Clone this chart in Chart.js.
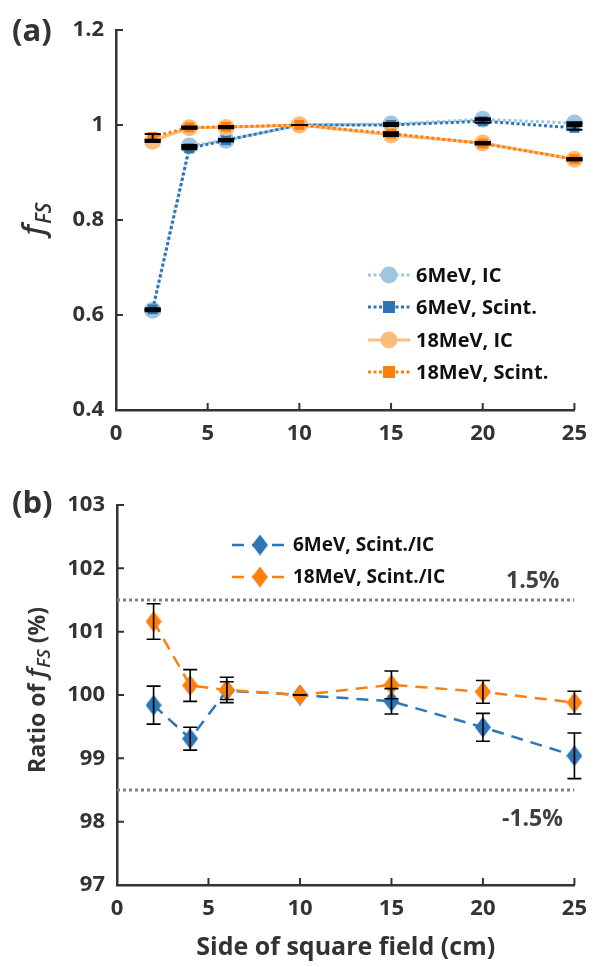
<!DOCTYPE html>
<html><head><meta charset="utf-8">
<script src="https://cdn.jsdelivr.net/npm/chart.js@4/dist/chart.umd.min.js"></script>
<style>
html,body{margin:0;padding:0;background:#fff;}
#wrap{position:relative;width:598px;height:967px;overflow:hidden;}
#c1{position:absolute;left:0;top:0;}
#c2{position:absolute;left:0;top:470px;}
</style></head><body>
<div id="wrap">
<canvas id="c1" width="598" height="470"></canvas>
<canvas id="c2" width="598" height="497"></canvas>
</div>
<script>
// ---------- data ----------
const fieldSizes = [2, 4, 6, 10, 15, 20, 25];

// panel (a): f_FS
const ic6MeV     = [0.610, 0.956, 0.968, 1.000, 1.002, 1.012, 1.004];
const scint6MeV  = [0.612, 0.951, 0.968, 1.000, 1.000, 1.008, 0.994];
const ic18MeV    = [0.966, 0.994, 0.995, 1.000, 0.979, 0.962, 0.928];
const scint18MeV = [0.975, 0.995, 0.996, 1.000, 0.982, 0.961, 0.928];
const ic6Err     = [0.002, 0.002, 0.002, 0.000, 0.002, 0.002, 0.002];
const scint6Err  = [0.002, 0.002, 0.002, 0.000, 0.002, 0.003, 0.004];
const ic18Err    = [0.002, 0.002, 0.002, 0.000, 0.002, 0.002, 0.002];
const scint18Err = [0.006, 0.002, 0.002, 0.000, 0.003, 0.002, 0.002];

// panel (b): ratio Scint./IC (%)
const ratio6MeV     = [99.84, 99.31, 100.07, 100.00, 99.90, 99.49, 99.04];
const ratio6Err     = [0.30, 0.18, 0.14, 0.00, 0.20, 0.22, 0.36];
const ratio18MeV    = [101.16, 100.15, 100.08, 100.00, 100.16, 100.05, 99.88];
const ratio18Err    = [0.28, 0.25, 0.20, 0.00, 0.22, 0.18, 0.18];
const limitUpper = 101.5;
const limitLower = 98.5;
const limitXRange = [0, 25];

const ticksA = [0.4, 0.6, 0.8, 1.0, 1.2];
const ticksB = [97, 98, 99, 100, 101, 102, 103];
const ticksX = [0, 5, 10, 15, 20, 25];

// ---------- styles ----------
const BLUE = '#2e75b6', LBLUE = '#9fc6e0', ORANGE = '#ff7f0e', LORANGE = '#fdbd7a';
const AXIS = '#333333';
const FONT = '"Open Sans", Lato, sans-serif';

function pts(ys){ return fieldSizes.map((x,i)=>({x:x, y:ys[i]})); }

function diamond(color){
  const c = document.createElement('canvas');
  c.width = 16; c.height = 21;
  const g = c.getContext('2d');
  g.fillStyle = color;
  g.beginPath(); g.moveTo(8,0); g.lineTo(16,10.5); g.lineTo(8,21); g.lineTo(0,10.5); g.closePath(); g.fill();
  return c;
}
const diaBlue = diamond(BLUE), diaOrange = diamond(ORANGE);

const errorBars = {
  id: 'errorBars',
  afterDatasetsDraw(chart, args, opts) {
    const ctx = chart.ctx, ys = chart.scales.y;
    ctx.save();
    ctx.strokeStyle = '#000';
    ctx.lineWidth = opts.lw;
    chart.data.datasets.forEach((ds, di) => {
      if (!ds.errors) return;
      const meta = chart.getDatasetMeta(di);
      meta.data.forEach((p, i) => {
        const e = ds.errors[i];
        const v = ds.data[i].y;
        const yt = ys.getPixelForValue(v + e), yb = ys.getPixelForValue(v - e);
        const hw = opts.cap;
        ctx.beginPath();
        if (e > 0) { ctx.moveTo(p.x, yt); ctx.lineTo(p.x, yb); }
        ctx.moveTo(p.x - hw, yt); ctx.lineTo(p.x + hw, yt);
        ctx.moveTo(p.x - hw, yb); ctx.lineTo(p.x + hw, yb);
        ctx.stroke();
      });
    });
    ctx.restore();
  }
};

const innerTicks = {
  id: 'innerTicks',
  afterDraw(chart) {
    const ctx = chart.ctx, xs = chart.scales.x, ys = chart.scales.y, a = chart.chartArea;
    ctx.save();
    ctx.strokeStyle = AXIS; ctx.lineWidth = 2;
    ctx.beginPath();
    xs.ticks.forEach(t => { const px = xs.getPixelForValue(t.value); ctx.moveTo(px, a.bottom); ctx.lineTo(px, a.bottom - 7); });
    ys.ticks.forEach(t => { const py = ys.getPixelForValue(t.value); ctx.moveTo(a.left, py); ctx.lineTo(a.left + 7, py); });
    ctx.stroke();
    ctx.restore();
  }
};

function drawRotatedTitle(ctx, cx, cy, parts) {
  ctx.save();
  ctx.translate(cx, cy);
  ctx.rotate(-Math.PI / 2);
  ctx.fillStyle = AXIS;
  ctx.textBaseline = 'alphabetic';
  ctx.textAlign = 'left';
  let total = 0;
  parts.forEach(p => { ctx.font = p.font; p.w = ctx.measureText(p.t).width; total += p.w + (p.gap||0); });
  let x = -total / 2;
  parts.forEach(p => { ctx.font = p.font; ctx.fillText(p.t, x, p.dy || 0); x += p.w + (p.gap||0); });
  ctx.restore();
}

function drawLegendLine(ctx, x0, x1, y, color, dash, lw) {
  ctx.save();
  ctx.strokeStyle = color; ctx.lineWidth = lw; ctx.setLineDash(dash);
  ctx.beginPath(); ctx.moveTo(x0, y); ctx.lineTo(x1, y); ctx.stroke();
  ctx.restore();
}

// ---------- chart (a) ----------
const decorA = {
  id: 'decorA',
  afterDraw(chart) {
    const ctx = chart.ctx;
    ctx.save();
    ctx.fillStyle = AXIS;
    ctx.font = 'bold 31px ' + FONT;
    ctx.textBaseline = 'alphabetic';
    ctx.fillText('(a)', 12, 41);
    ctx.restore();
    drawRotatedTitle(ctx, 44, 219, [
      {t:'f', font:'italic 600 30px ' + FONT, gap:1},
      {t:'FS', font:'italic 600 21px ' + FONT, dy:7}
    ]);
    // legend
    const items = [
      {label:'6MeV, IC', color:LBLUE, dash:[3,2.5], m:'circle'},
      {label:'6MeV, Scint.', color:BLUE, dash:[3,2.5], m:'square'},
      {label:'18MeV, IC', color:LORANGE, dash:[], m:'circle'},
      {label:'18MeV, Scint.', color:ORANGE, dash:[3,2.5], m:'square'}
    ];
    const rows = [275, 307, 340, 372];
    items.forEach((it, i) => {
      const y = rows[i];
      drawLegendLine(ctx, 368, 410, y, it.color, it.dash, 3);
      ctx.save();
      ctx.fillStyle = it.color;
      if (it.m === 'circle') { ctx.beginPath(); ctx.arc(389, y, 8.5, 0, Math.PI*2); ctx.fill(); }
      else { ctx.fillRect(383, y - 6, 12, 12); }
      ctx.fillStyle = '#111';
      ctx.font = 'bold 20px ' + FONT;
      ctx.textBaseline = 'middle';
      ctx.fillText(it.label, 416, y + 1);
      ctx.restore();
    });
  }
};

new Chart(document.getElementById('c1'), {
  type: 'line',
  data: {
    datasets: [
      {label:'6MeV, IC', data:pts(ic6MeV), errors:ic6Err, borderColor:LBLUE, backgroundColor:LBLUE,
       borderDash:[3,2.5], borderWidth:3, pointStyle:'circle', pointRadius:8.5, pointBorderWidth:0, order:4, clip:false},
      {label:'6MeV, Scint.', data:pts(scint6MeV), errors:scint6Err, borderColor:BLUE, backgroundColor:BLUE,
       borderDash:[3,2.5], borderWidth:3, pointStyle:'rect', pointRadius:7, pointBorderWidth:0, order:3, clip:false},
      {label:'18MeV, IC', data:pts(ic18MeV), errors:ic18Err, borderColor:LORANGE, backgroundColor:LORANGE,
       borderWidth:3, pointStyle:'circle', pointRadius:8.5, pointBorderWidth:0, order:2, clip:false},
      {label:'18MeV, Scint.', data:pts(scint18MeV), errors:scint18Err, borderColor:ORANGE, backgroundColor:ORANGE,
       borderDash:[3,2.5], borderWidth:3, pointStyle:'rect', pointRadius:7, pointBorderWidth:0, order:1, clip:false}
    ]
  },
  options: {
    responsive:false, animation:false, devicePixelRatio:1,
    layout:{padding:{top:30, right:13, left:0, bottom:0}},
    plugins:{legend:{display:false}, tooltip:{enabled:false}, errorBars:{lw:2, cap:8}},
    elements:{line:{tension:0}},
    scales:{
      x:{type:'linear', min:0, max:25,
         afterBuildTicks(s){ s.ticks = ticksX.map(v=>({value:v})); },
         afterFit(s){ s.height = 60; },
         grid:{display:false, drawTicks:false}, border:{color:AXIS, width:2.5},
         ticks:{padding:11, color:AXIS, font:{family:FONT, size:22, weight:'bold'}}},
      y:{min:0.4, max:1.2,
         afterBuildTicks(s){ s.ticks = ticksA.map(v=>({value:v})); },
         afterFit(s){ s.width = 116; },
         grid:{display:false, drawTicks:false}, border:{color:AXIS, width:2.5},
         ticks:{padding:12, color:AXIS, font:{family:FONT, size:22, weight:'bold'},
                callback:v=>String(Number(v.toFixed(1)))}}
    }
  },
  plugins:[errorBars, innerTicks, decorA]
});

// ---------- chart (b) ----------
const decorB = {
  id: 'decorB',
  afterDraw(chart) {
    const ctx = chart.ctx;
    ctx.save();
    ctx.fillStyle = AXIS;
    ctx.font = 'bold 31px ' + FONT;
    ctx.fillText('(b)', 12, 43);
    ctx.fillStyle = '#404040';
    ctx.font = 'bold 23px ' + FONT;
    ctx.textBaseline = 'middle';
    ctx.fillText('1.5%', 506, 111);
    ctx.fillText('-1.5%', 502, 349);
    ctx.restore();
    drawRotatedTitle(ctx, 45, 220, [
      {t:'Ratio of ', font:'bold 23px ' + FONT},
      {t:'f', font:'italic 600 26px ' + FONT, gap:1},
      {t:'FS', font:'italic 600 18px ' + FONT, dy:5},
      {t:' (%)', font:'bold 23px ' + FONT}
    ]);
    const items = [
      {label:'6MeV, Scint./IC', color:BLUE, img:diaBlue},
      {label:'18MeV, Scint./IC', color:ORANGE, img:diaOrange}
    ];
    const rows = [75, 107];
    items.forEach((it, i) => {
      const y = rows[i];
      drawLegendLine(ctx, 232, 288, y, it.color, [12,8], 2.5);
      ctx.drawImage(it.img, 252, y - 10.5);
      ctx.save();
      ctx.fillStyle = '#111';
      ctx.font = 'bold 19px ' + FONT;
      ctx.textBaseline = 'middle';
      ctx.fillText(it.label, 293, y + 1);
      ctx.restore();
    });
  }
};

new Chart(document.getElementById('c2'), {
  type: 'line',
  data: {
    datasets: [
      {label:'upper', data:limitXRange.map(x=>({x:x, y:limitUpper})), borderColor:'#808080', borderWidth:3,
       borderDash:[3,3], pointRadius:0, order:5},
      {label:'lower', data:limitXRange.map(x=>({x:x, y:limitLower})), borderColor:'#808080', borderWidth:3,
       borderDash:[3,3], pointRadius:0, order:5},
      {label:'6MeV, Scint./IC', data:pts(ratio6MeV), errors:ratio6Err, borderColor:BLUE, backgroundColor:BLUE,
       borderDash:[12,8], borderWidth:2.5, pointStyle:diaBlue, pointRadius:10, order:2, clip:false},
      {label:'18MeV, Scint./IC', data:pts(ratio18MeV), errors:ratio18Err, borderColor:ORANGE, backgroundColor:ORANGE,
       borderDash:[12,8], borderWidth:2.5, pointStyle:diaOrange, pointRadius:10, order:1, clip:false}
    ]
  },
  options: {
    responsive:false, animation:false, devicePixelRatio:1,
    layout:{padding:{top:35, right:13, left:0, bottom:0}},
    plugins:{legend:{display:false}, tooltip:{enabled:false}, errorBars:{lw:1.6, cap:7}},
    elements:{line:{tension:0}},
    scales:{
      x:{type:'linear', min:0, max:25,
         afterBuildTicks(s){ s.ticks = ticksX.map(v=>({value:v})); },
         afterFit(s){ s.height = 82; },
         grid:{display:false, drawTicks:false}, border:{color:AXIS, width:2.5},
         ticks:{padding:11, color:AXIS, font:{family:FONT, size:22, weight:'bold'}},
         title:{display:true, text:'Side of square field (cm)', color:AXIS, padding:{top:2},
                font:{family:FONT, size:25, weight:'bold'}}},
      y:{min:97, max:103,
         afterBuildTicks(s){ s.ticks = ticksB.map(v=>({value:v})); },
         afterFit(s){ s.width = 117; },
         grid:{display:false, drawTicks:false}, border:{color:AXIS, width:2.5},
         ticks:{padding:12, color:AXIS, font:{family:FONT, size:22, weight:'bold'}}}
    }
  },
  plugins:[errorBars, innerTicks, decorB]
});
</script>
</body></html>
